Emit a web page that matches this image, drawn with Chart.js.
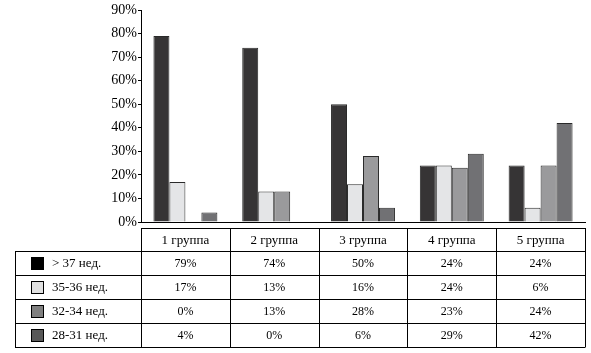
<!DOCTYPE html>
<html>
<head>
<meta charset="utf-8">
<script src="https://cdn.jsdelivr.net/npm/chart.js@4.4.0/dist/chart.umd.min.js"></script>
<style>
  html, body { margin: 0; padding: 0; background: #fff; }
  #wrap { position: relative; width: 591px; height: 353px; }
</style>
</head>
<body>
<div id="wrap"><canvas id="grafica" width="591" height="353"></canvas></div>
<script>
// данные
const grupos = ['1 группа', '2 группа', '3 группа', '4 группа', '5 группа'];
const series = ['> 37 нед.', '35-36 нед.', '32-34 нед.', '28-31 нед.'];
const sem37 = [79, 74, 50, 24, 24];
const sem35 = [17, 13, 16, 24, 6];
const sem32 = [0, 13, 28, 23, 24];
const sem28 = [4, 0, 6, 29, 42];
const yTicks = [0, 10, 20, 30, 40, 50, 60, 70, 80, 90];

const valores = [sem37, sem35, sem32, sem28];
const coloresBarra = ['#363435', '#e4e5e7', '#9a9a9c', '#717174'];
const coloresLeyenda = ['#000000', '#e0e0e0', '#808080', '#585858'];
const FONT = '"Liberation Serif", "Times New Roman", serif';

// tabla de datos debajo del gráfico
const tablaPlugin = {
  id: 'tabla',
  afterDraw(chart) {
    const ctx = chart.ctx;
    const x = chart.scales.x;
    const area = chart.chartArea;
    const colW = (area.right - area.left) / grupos.length;
    const top = 228, headH = 23, rowH = 24, leftX = 15;
    const bottom = top + headH + rowH * series.length;
    ctx.save();
    ctx.strokeStyle = '#000';
    ctx.lineWidth = 1;
    ctx.beginPath();
    // header top line
    ctx.moveTo(area.left, top + 0.5); ctx.lineTo(area.right, top + 0.5);
    // row lines
    for (let r = 0; r <= series.length; r++) {
      const y = Math.round(top + headH + r * rowH) + 0.5;
      ctx.moveTo(leftX, y); ctx.lineTo(area.right, y);
    }
    // verticals
    for (let c = 0; c <= grupos.length; c++) {
      const xx = Math.round(area.left + c * colW) + 0.5;
      ctx.moveTo(xx, top); ctx.lineTo(xx, bottom + 0.5);
    }
    ctx.moveTo(leftX + 0.5, top + headH); ctx.lineTo(leftX + 0.5, bottom + 0.5);
    ctx.stroke();

    ctx.fillStyle = '#000';
    ctx.font = '13px ' + FONT;
    ctx.textAlign = 'center';
    ctx.textBaseline = 'middle';
    grupos.forEach((g, i) => {
      ctx.fillText(g, x.getPixelForTick(i), top + headH / 2 + 1);
    });
    series.forEach((s, r) => {
      const yc = top + headH + r * rowH + rowH / 2 + 1;
      ctx.fillStyle = coloresLeyenda[r];
      ctx.fillRect(31, yc - 7, 13, 13);
      ctx.strokeStyle = '#000';
      ctx.strokeRect(31.5, yc - 6.5, 12, 12);
      ctx.fillStyle = '#000';
      ctx.textAlign = 'left';
      ctx.font = '13px ' + FONT;
      ctx.fillText(s, 52, yc);
      ctx.textAlign = 'center';
      ctx.font = '12px ' + FONT;
      valores[r].forEach((v, i) => {
        ctx.fillText(v + '%', x.getPixelForTick(i), yc);
      });
    });
    ctx.restore();
  }
};

new Chart(document.getElementById('grafica').getContext('2d'), {
  type: 'bar',
  data: {
    labels: grupos,
    datasets: series.map((s, i) => ({
      label: s,
      data: valores[i],
      backgroundColor: coloresBarra[i],
      borderColor: '#2a2a2a',
      borderWidth: 1,
      borderSkipped: 'bottom'
    }))
  },
  options: {
    responsive: false,
    animation: false,
    events: [],
    layout: { padding: { left: 0, right: 6, top: 10, bottom: 131 } },
    plugins: { legend: { display: false }, tooltip: { enabled: false } },
    datasets: { bar: { categoryPercentage: 0.72, barPercentage: 1.0 } },
    scales: {
      x: {
        grid: { display: false },
        ticks: { display: false },
        border: { display: true, color: '#000', width: 1 },
        afterFit(s) { s.height = 0; }
      },
      y: {
        min: 0,
        max: 90,
        afterBuildTicks(s) { s.ticks = yTicks.map(v => ({ value: v })); },
        afterFit(s) { s.width = 141; },
        grid: { drawOnChartArea: false, tickLength: 3, color: '#000' },
        border: { display: true, color: '#000', width: 1 },
        ticks: {
          padding: 1,
          color: '#000',
          font: { family: FONT, size: 14 },
          callback: v => v + '%'
        }
      }
    }
  },
  plugins: [tablaPlugin]
});
</script>
</body>
</html>
